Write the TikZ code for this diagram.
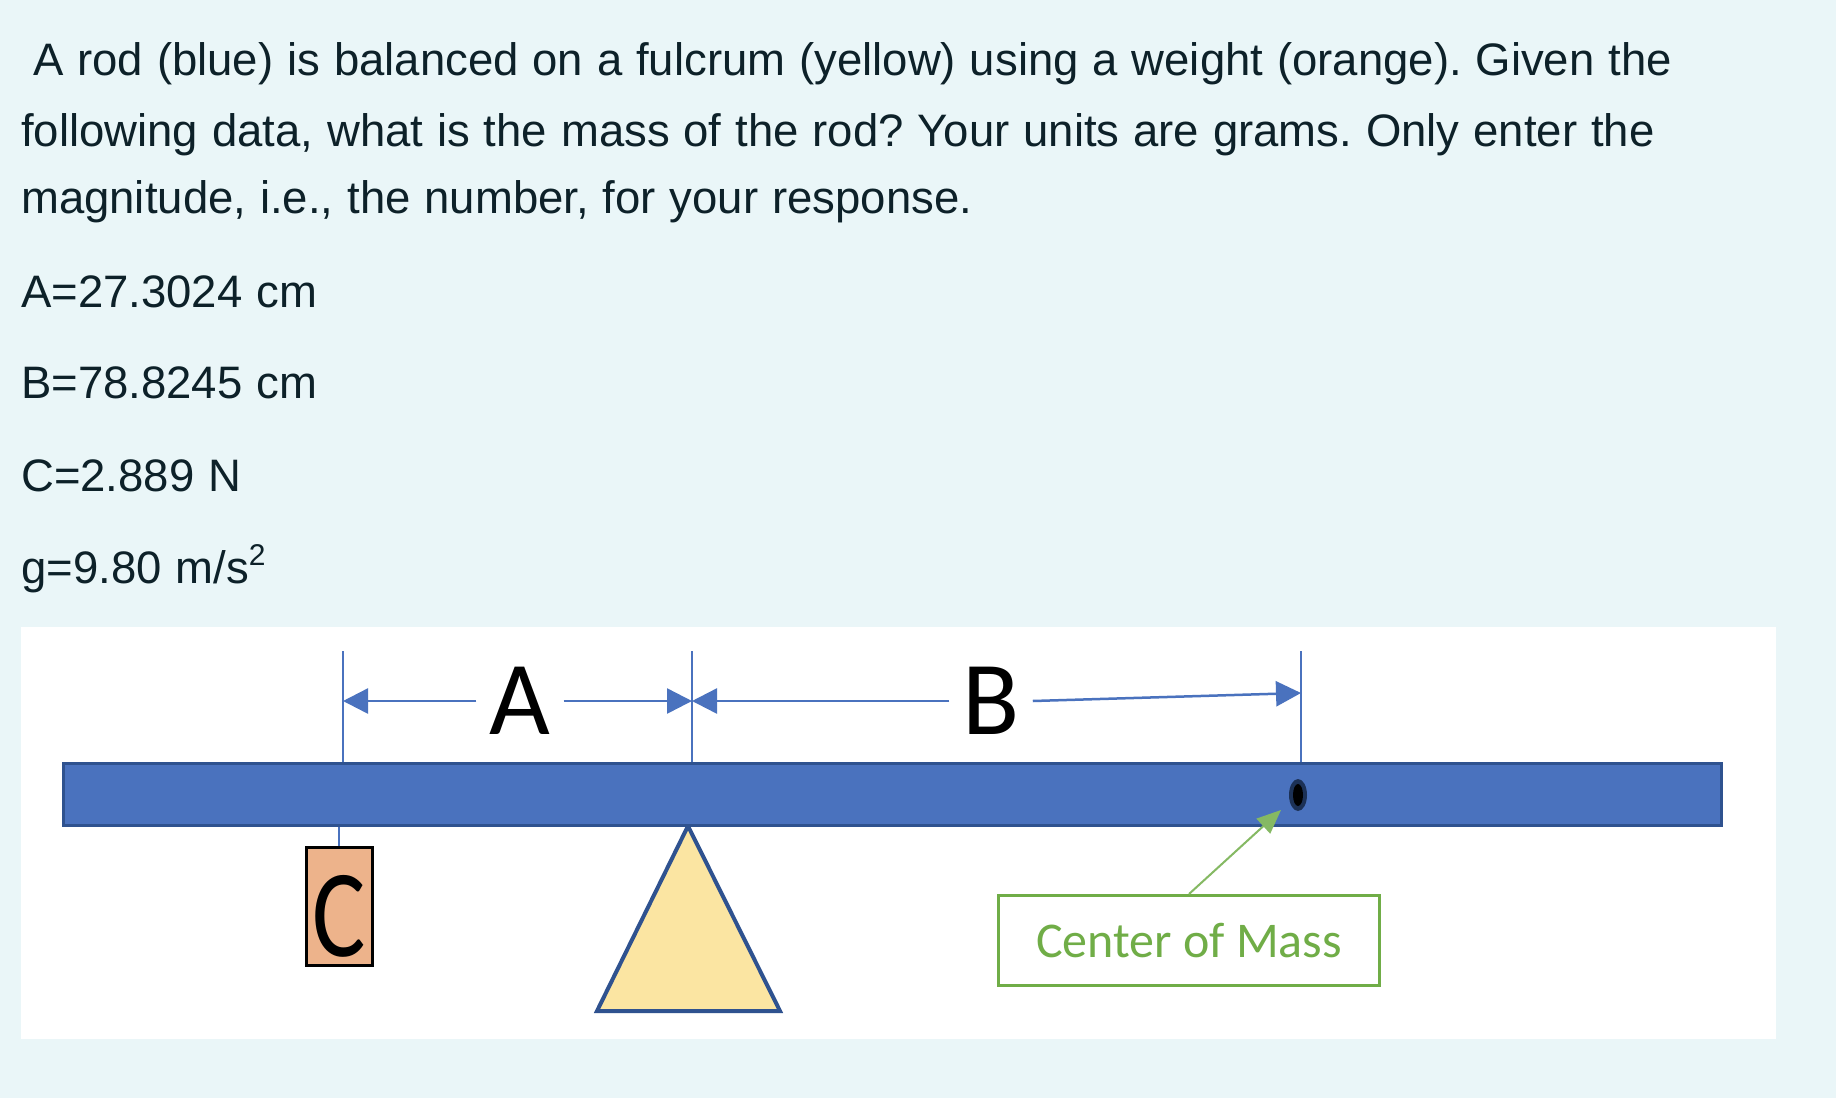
\documentclass[tikz,border=0pt]{standalone}
\usepackage{fontspec}
\setmainfont{Liberation Sans}[WordSpace=1.1]
\newfontfamily\calibri{Carlito}
\usetikzlibrary{arrows.meta}
\definecolor{pagebg}{RGB}{234,246,248}
\definecolor{inktext}{RGB}{13,33,41}
\definecolor{rodblue}{RGB}{74,114,190}
\definecolor{roddark}{RGB}{47,82,143}
\definecolor{weightorange}{RGB}{237,179,139}
\definecolor{fulcrumyellow}{RGB}{251,229,162}
\definecolor{massgreen}{RGB}{112,173,71}
\frenchspacing
\tikzset{ q/.style = { anchor = base west % question text
        , inner sep = 0pt
        , text = inktext
        , font = \fontsize{45.5}{55}\selectfont
        }
        , lbl/.style = { inner sep = 13pt % dimension letter
        , fill = white
        , font = \calibri\fontsize{105}{105}\selectfont
        }
        , guide/.style = { draw = rodblue % thin marker line
        , line width = 1.5pt
        }
        }

\begin{document}
\begin{tikzpicture}[x=1pt, y=-1pt,
        rod_style/.style={rectangle,draw=roddark,line width=3pt,fill=rodblue,minimum width=1658pt,minimum height=62pt,inner sep=0pt},
        weight_style/.style={rectangle,draw=black,line width=3pt,fill=weightorange,minimum width=66pt,minimum height=118pt,inner sep=0pt,font=\calibri\fontsize{125}{125}\selectfont},
        note_style/.style={rectangle,draw=massgreen,line width=3pt,fill=white,minimum width=381pt,minimum height=90pt,text=massgreen,font=\calibri\fontsize{50}{50}\selectfont},
        dim_style/.style={draw=rodblue,line width=2.5pt,-{Triangle[length=25pt,width=25pt]}},
        pointer_style/.style={draw=massgreen!85!white,line width=2pt,-{Triangle[length=24pt,width=20pt]}}]
        \useasboundingbox (0,0) rectangle (1836,1098);
        \fill[pagebg] (0,0) rectangle (1836,1098);

        \node [q] (t1) at (33,75) {A rod (blue) is balanced on a fulcrum (yellow) using a weight (orange). Given the};
        \node [q] (t2) at (21,146) {following data, what is the mass of the rod? Your units are grams. Only enter the};
        \node [q] (t3) at (21,213) {magnitude, i.e., the number, for your response.};
        \node [q] (dA) at (21,307) {A=27.3024 cm};
        \node [q] (dB) at (21,398) {B=78.8245 cm};
        \node [q] (dC) at (21,491) {C=2.889 N};
        \node [q] (dg) at (21,583) {g=9.80 m/s\raisebox{18pt}{\fontsize{30}{30}\selectfont 2}};

        \fill[white] (21,627) rectangle (1776,1039);

        \coordinate (apex) at (688,826);
        \draw[fill=fulcrumyellow,draw=roddark,line width=4pt,line join=miter] (apex) -- (597,1011) -- (780,1011) -- cycle;
        \node [rod_style] (rod) at (892.5,794) {};

        \coordinate (gA) at (343,651);
        \coordinate (gF) at (692,651);
        \coordinate (gB) at (1301,651);
        \draw[guide] (gA) -- (gA |- rod.north);
        \draw[guide] (gF) -- (gF |- rod.north);
        \draw[guide] (gB) -- (gB |- rod.north);

        \node [lbl] (A) at (520,701) {A};
        \node [lbl] (B) at (991,701) {B};
        \draw [dim_style] (A.west) -- (A.west -| gA);
        \draw [dim_style] (A.east) -- (A.east -| gF);
        \draw [dim_style] (B.west) -- (B.west -| gF);
        \coordinate (tipB) at (1301,693);
        \draw [dim_style] (B.east) -- (tipB);

        \node [weight_style] (wt) at (339,906) {\raisebox{-50pt}[0pt][0pt]{\scalebox{0.8}[1]{C}}};
        \draw[guide] (wt.north) -- (wt.north |- rod.south);

        \coordinate (cm) at (1298,795);
        \fill[roddark!60!black] (cm) ellipse [x radius=9, y radius=16];
        \fill[black] (cm) ellipse [x radius=5, y radius=11];

        \node [note_style] (note) at (1189,940.5) {Center of Mass};
        \coordinate (cmtip) at (1281,810);
        \draw [pointer_style] (note.north) -- (cmtip);
\end{tikzpicture}
\end{document}
